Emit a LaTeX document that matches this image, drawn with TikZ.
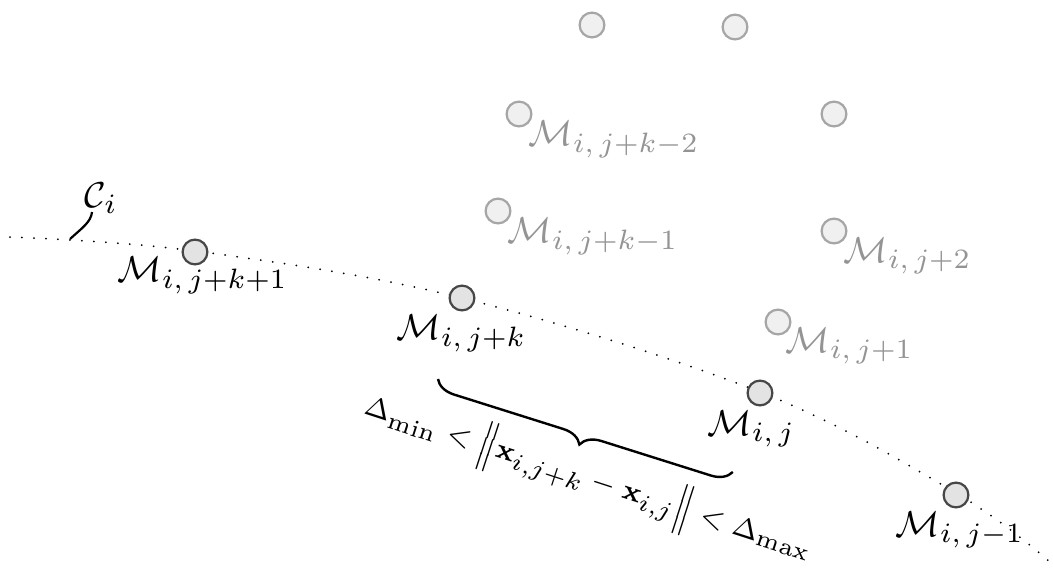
\documentclass[tikz,border=0pt]{standalone}
\usepackage{amsmath,amssymb}
\usetikzlibrary{decorations.pathreplacing}
\DeclareMathSizes{6.9}{6.9}{5.6}{4.4}
\begin{document}
\begin{tikzpicture}[x=0.25pt,y=-0.25pt,
  mk/.style={circle,draw=black!72,fill=black!11,line width=0.55pt,minimum size=6.2pt,inner sep=0pt},
  fmk/.style={circle,draw=black!35,fill=black!6,line width=0.55pt,minimum size=6.2pt,inner sep=0pt},
  lab/.style={anchor=base west,inner sep=0pt,font=\fontsize{9.4}{11}\selectfont},
  flab/.style={lab,text=black!42},
  curve/.style={line width=0.5pt,line cap=round,dash pattern=on 0pt off 3pt}]
\useasboundingbox (0,0) rectangle (1053,571);
% curve
\draw[curve] plot[smooth,tension=0.6] coordinates {(10,237) (195,251) (462,298) (760,392) (956,493) (1050,562)};
% faded markers
\node[fmk] (f1) at (592,25) {};
\node[fmk] (f2) at (735,27) {};
\node[fmk] (f3) at (519,114) {};
\node[fmk] (f4) at (834,114) {};
\node[fmk] (f5) at (498,211) {};
\node[fmk] (f6) at (834,231) {};
\node[fmk] (f7) at (778,322) {};
\node[flab] (lf3) at (528,145) {$\mathcal{M}_{i,\,j+k-2}$};
\node[flab] (lf5) at (507,242) {$\mathcal{M}_{i,\,j+k-1}$};
\node[flab] (lf6) at (843,262) {$\mathcal{M}_{i,\,j+2}$};
\node[flab] (lf7) at (785,352) {$\mathcal{M}_{i,\,j+1}$};
% markers on the curve
\node[mk] (m1) at (195,252) {};
\node[mk] (m2) at (462,298) {};
\node[mk] (m3) at (760,393) {};
\node[mk] (m4) at (956,495) {};
\node[lab] (l1) at (117,281) {$\mathcal{M}_{i,\,j+k+1}$};
\node[lab] (l2) at (396,339) {$\mathcal{M}_{i,\,j+k}$};
\node[lab] (l3) at (707,435) {$\mathcal{M}_{i,\,j}$};
\node[lab] (l4) at (895,536) {$\mathcal{M}_{i,\,j-1}$};
% curve label
\node[lab] (ci) at (84,207) {$\mathcal{C}_i$};
\coordinate (cfoot) at (70,239);
\coordinate (ctop) at (92,212);
\draw[line width=0.55pt] (cfoot) .. controls (82,228) and (91,222) .. (ctop);
% brace
\coordinate (b1) at (438,379);
\coordinate (b2) at (733,472);
\draw[line width=0.6pt,decorate,decoration={brace,mirror,amplitude=5pt}] (b1) -- (b2);
\node[anchor=base,inner sep=0pt,rotate=-18,font=\fontsize{6.9}{9}\selectfont] (cond) at (586,486)
  {$\Delta_{\min}<\left\|\mathbf{x}_{i,j+k}-\mathbf{x}_{i,j}\right\|<\Delta_{\max}$};
\end{tikzpicture}
\end{document}
